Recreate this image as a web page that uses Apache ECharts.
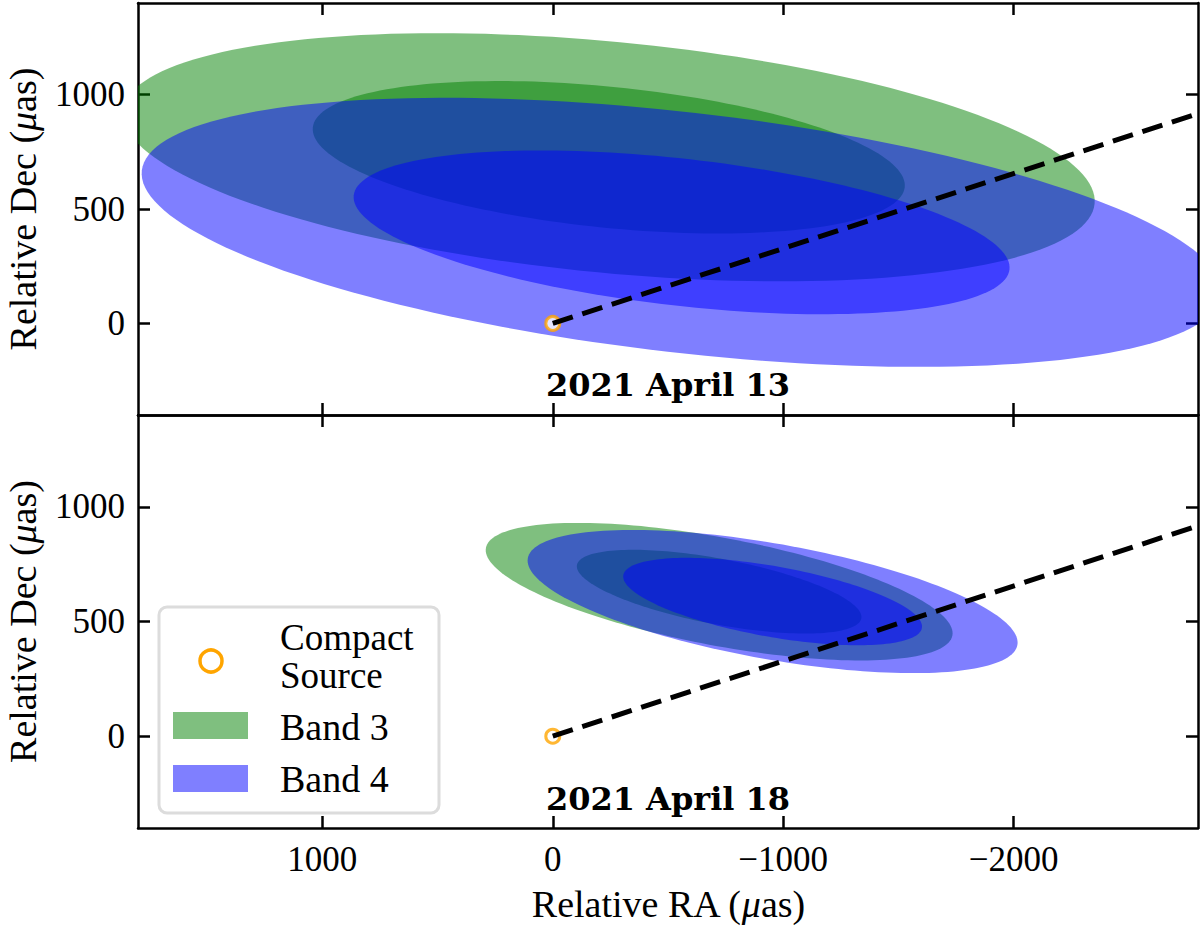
<!DOCTYPE html>
<html>
<head>
<meta charset="utf-8">
<script src="https://cdn.jsdelivr.net/npm/echarts@6/dist/echarts.min.js"></script>
<style>
html, body { margin: 0; padding: 0; background: #fff; }
#main { width: 1200px; height: 929px; }
</style>
</head>
<body>
<div id="main"></div>
<script>
// ellipses: [RA centre, Dec centre, semi-major, semi-minor, angle (deg)]
var band3Apr13 = [[-243, 726, 2118, 505, 5.5], [-243, 726, 1291, 308, 5.8]];
var band4Apr13 = [[-559, 398, 2358, 525, 6.6], [-559, 398, 1432, 321, 6.5]];
var band3Apr18 = [[-722, 630, 1030, 235, 10.7], [-722, 630, 628, 143, 10.7]];
var band4Apr18 = [[-954, 587, 1079, 252, 10.1], [-954, 587, 658, 154, 10.1]];
var compactSource = [[0, 0]];
var jetLine = [[0, 0], [-2800, 917]];
var xTicks = [-2000, -1000, 0, 1000];
var yTicks = [0, 500, 1000];
var panelTitles = ['2021 April 13', '2021 April 18'];

var green = 'rgba(0,128,0,0.5)';
var blue = 'rgba(0,0,255,0.5)';
var orange = '#ffa500';
var serif = 'Liberation Serif';

function fmtTick(v) {
	return v < 0 ? '\u2212' + Math.abs(v) : String(v);
}

// polygon outline of an ellipse, mapped through the axes
function ellipseSeries(data, color, idx) {
	return {
		type: 'custom',
		xAxisIndex: idx * 2,
		yAxisIndex: idx * 2,
		clip: true,
		silent: true,
		data: data,
		encode: { x: 0, y: 1 },
		renderItem: function(params, api) {
			var cx = api.value(0), cy = api.value(1), a = api.value(2), b = api.value(3);
			var ang = api.value(4) * Math.PI / 180;
			var pts = [];
			for(var i = 0; i < 180; i++) {
				var t = i / 180 * 2 * Math.PI;
				var u = a * Math.cos(t), v = b * Math.sin(t);
				pts.push(api.coord([cx + u * Math.cos(ang) - v * Math.sin(ang), cy + u * Math.sin(ang) + v * Math.cos(ang)]));
			}
			return { type: 'polygon', shape: { points: pts }, style: { fill: color } };
		}
	};
}

var nameRich = {
	r: { fontSize: 38, fontFamily: serif, color: '#000' },
	i: { fontSize: 38, fontFamily: serif, fontStyle: 'italic', color: '#000' }
};

function xAxisOf(grid, pos, labels) {
	return {
		type: 'value', gridIndex: grid, position: pos, inverse: true,
		min: -2800, max: 1800,
		splitLine: { show: false },
		axisLine: { show: true, onZero: false, lineStyle: { color: '#000', width: 2.5 } },
		axisTick: { show: true, inside: true, length: 12, customValues: xTicks, lineStyle: { color: '#000', width: 2.5 } },
		axisLabel: { show: labels, customValues: xTicks, margin: 14, color: '#000', fontSize: 35, fontFamily: serif, formatter: fmtTick },
		name: labels ? '{r|Relative RA (}{i|\u03bc}{r|as)}' : '',
		nameLocation: 'middle',
		nameGap: 57,
		nameTextStyle: { rich: nameRich }
	};
}

function yAxisOf(grid, pos, labels) {
	return {
		type: 'value', gridIndex: grid, position: pos,
		min: -400, max: 1400,
		splitLine: { show: false },
		axisLine: { show: true, onZero: false, lineStyle: { color: '#000', width: 2.5 } },
		axisTick: { show: true, inside: true, length: 12, customValues: yTicks, lineStyle: { color: '#000', width: 2.5 } },
		axisLabel: { show: labels, customValues: yTicks, margin: 13, color: '#000', fontSize: 35, fontFamily: serif, formatter: fmtTick },
		name: labels ? '{r|Relative Dec (}{i|\u03bc}{r|as)}' : '',
		nameLocation: 'middle',
		nameGap: 96,
		nameTextStyle: { rich: nameRich }
	};
}

function sourceSeries(idx) {
	return {
		type: 'scatter', xAxisIndex: idx * 2, yAxisIndex: idx * 2,
		data: compactSource, symbol: 'circle', symbolSize: 14, z: 3, silent: true,
		itemStyle: { color: '#fff', borderColor: orange, borderWidth: 3 }
	};
}

function jetSeries(idx) {
	return {
		type: 'line', xAxisIndex: idx * 2, yAxisIndex: idx * 2,
		data: jetLine, symbol: 'none', z: 4, silent: true, clip: true,
		lineStyle: { color: '#000', width: 5, type: [21, 10] }
	};
}

var chart = echarts.init(document.getElementById('main'), null, { renderer: 'svg' });
chart.setOption({
	animation: false,
	backgroundColor: '#fff',
	grid: [
		{ left: 138, top: 3, width: 1060, height: 412, outerBoundsMode: 'none', containLabel: false },
		{ left: 138, top: 415, width: 1060, height: 413, outerBoundsMode: 'none', containLabel: false }
	],
	xAxis: [xAxisOf(0, 'bottom', false), xAxisOf(0, 'top', false), xAxisOf(1, 'bottom', true), xAxisOf(1, 'top', false)],
	yAxis: [yAxisOf(0, 'left', true), yAxisOf(0, 'right', false), yAxisOf(1, 'left', true), yAxisOf(1, 'right', false)],
	series: [
		ellipseSeries(band3Apr13, green, 0),
		ellipseSeries(band4Apr13, blue, 0),
		ellipseSeries(band3Apr18, green, 1),
		ellipseSeries(band4Apr18, blue, 1),
		sourceSeries(0), sourceSeries(1),
		jetSeries(0), jetSeries(1)
	],
	graphic: [
		{ type: 'text', x: 668, y: 385, z: 10, style: { text: panelTitles[0], align: 'center', verticalAlign: 'middle', fill: '#000', font: 'bold 32px "DejaVu Serif"' } },
		{ type: 'text', x: 668, y: 799, z: 10, style: { text: panelTitles[1], align: 'center', verticalAlign: 'middle', fill: '#000', font: 'bold 32px "DejaVu Serif"' } },
		// legend box
		{ type: 'rect', z: 20, shape: { x: 159, y: 607, width: 280, height: 206, r: 8 }, style: { fill: 'rgba(255,255,255,0.8)', stroke: '#dcdcdc', lineWidth: 3 } },
		{ type: 'circle', z: 21, shape: { cx: 211, cy: 661, r: 11 }, style: { fill: 'none', stroke: orange, lineWidth: 3.5 } },
		{ type: 'text', z: 21, x: 280, y: 656, style: { text: 'Compact\nSource', lineHeight: 38, verticalAlign: 'middle', fill: '#000', font: '37px "Liberation Serif"' } },
		{ type: 'rect', z: 21, shape: { x: 173, y: 712, width: 75, height: 27 }, style: { fill: green } },
		{ type: 'text', z: 21, x: 280, y: 727, style: { text: 'Band 3', verticalAlign: 'middle', fill: '#000', font: '38px "Liberation Serif"' } },
		{ type: 'rect', z: 21, shape: { x: 173, y: 765, width: 75, height: 27 }, style: { fill: blue } },
		{ type: 'text', z: 21, x: 280, y: 779, style: { text: 'Band 4', verticalAlign: 'middle', fill: '#000', font: '38px "Liberation Serif"' } }
	]
});
</script>
</body>
</html>
